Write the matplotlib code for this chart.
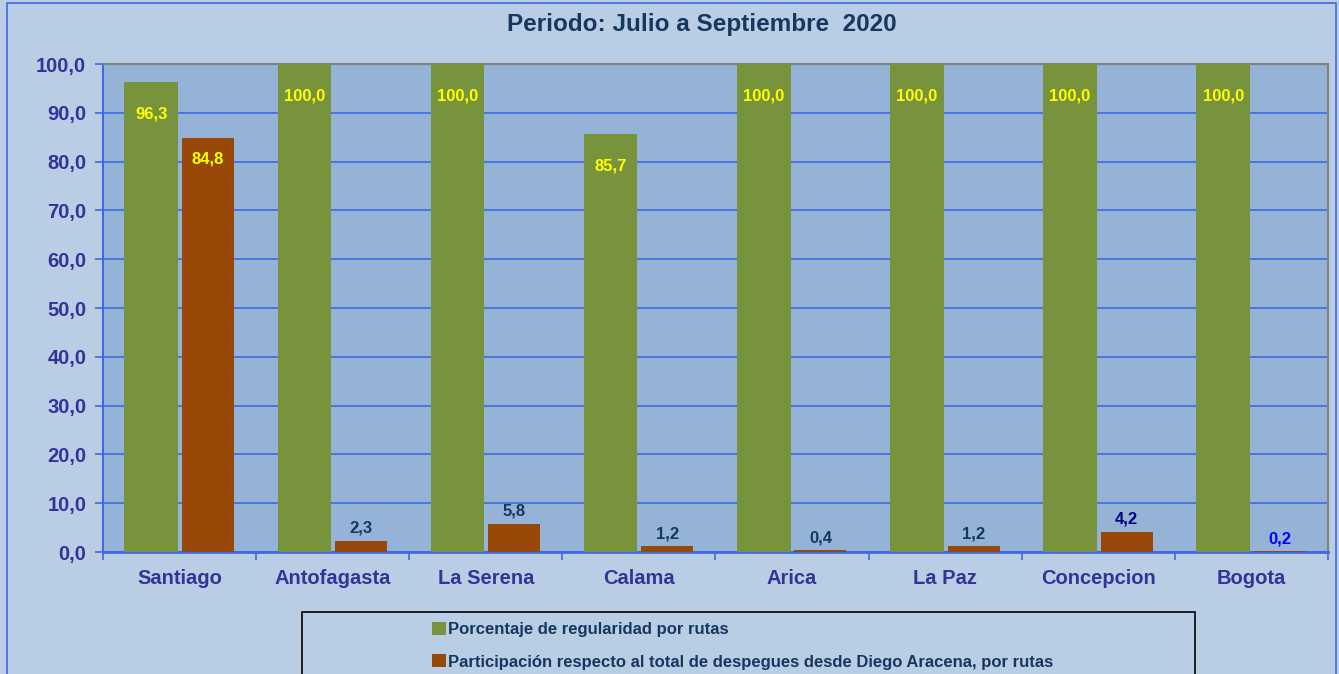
import matplotlib.pyplot as plt
import matplotlib.patches as patches
import numpy as np

plt.rcParams['font.family'] = 'Liberation Sans'
plt.rcParams['font.weight'] = 'bold'

ciudades = ['Santiago', 'Antofagasta', 'La Serena', 'Calama', 'Arica', 'La Paz', 'Concepcion', 'Bogota']
regularidad = [96.3, 100.0, 100.0, 85.7, 100.0, 100.0, 100.0, 100.0]
participacion = [84.8, 2.3, 5.8, 1.2, 0.4, 1.2, 4.2, 0.2]
col_part = ['#FFFF00', '#17375E', '#17375E', '#17375E', '#17375E', '#17375E', '#000080', '#0000FF']

titulo = 'Periodo: Julio a Septiembre  2020'
serie1 = 'Porcentaje de regularidad por rutas'
serie2 = 'Participación respecto al total de despegues desde Diego Aracena, por rutas'

verde = '#77933C'
cafe = '#984807'
fondo = '#B9CDE5'
fondo_ax = '#95B3D7'
azul = '#4169E1'
tick_col = '#333399'
navy = '#17375E'

fig = plt.figure(figsize=(13.39, 6.74), dpi=100, facecolor=fondo)
ax = fig.add_axes([0.0769, 0.181, 0.9149, 0.724])
ax.set_facecolor(fondo_ax)

# borde exterior
fig.patches.append(patches.Rectangle((7/1339, -0.01), (1336-7)/1339, 1 - 3/674 + 0.01,
                                     transform=fig.transFigure, fill=False,
                                     edgecolor=azul, lw=1.2))

x = np.arange(len(ciudades))
w = 0.35
b1 = ax.bar(x - 0.185, regularidad, w, color=verde, label=serie1, zorder=3)
b2 = ax.bar(x + 0.185, participacion, w * 0.97, color=cafe, label=serie2, zorder=3)

for xi, v in zip(x, regularidad):
    ax.text(xi - 0.185, v - 6.5, f'{v:.1f}'.replace('.', ','), ha='center', va='center',
            color='#FFFF00', fontsize=12, fontweight='bold', zorder=4)
for xi, v, c in zip(x, participacion, col_part):
    s = f'{v:.1f}'.replace('.', ',')
    if v > 50:
        ax.text(xi + 0.185, v - 4.3, s, ha='center', va='center', color=c,
                fontsize=12, fontweight='bold', zorder=4)
    else:
        ax.text(xi + 0.185, v + 1.0, s, ha='center', va='bottom', color=c,
                fontsize=12, fontweight='bold', zorder=4)

ax.set_xlim(-0.5, len(ciudades) - 0.5)
ax.set_ylim(0, 100)
ax.set_yticks(np.arange(0, 101, 10))
ax.set_yticklabels([f'{t:.1f}'.replace('.', ',') for t in np.arange(0, 101, 10)],
                   fontweight='bold')
ax.yaxis.grid(True, color=azul, lw=1.2, zorder=1)
ax.set_axisbelow(True)

ax.set_xticks(np.arange(-0.5, len(ciudades), 1))
ax.set_xticklabels([])
ax.set_xticks(x, minor=True)
ax.set_xticklabels(ciudades, minor=True, fontweight='bold')
ax.tick_params(axis='x', which='major', direction='out', length=6, color=azul, width=1.2)
ax.tick_params(axis='x', which='minor', length=0, pad=12, labelsize=14.5, labelcolor=tick_col)
ax.tick_params(axis='y', direction='out', length=6, color=azul, width=1.2,
               labelsize=14.5, labelcolor=tick_col, pad=6)

ax.spines['left'].set_color(azul)
ax.spines['bottom'].set_color(azul)
ax.spines['left'].set_linewidth(1.5)
ax.spines['bottom'].set_linewidth(2)
ax.spines['top'].set_color('#808080')
ax.spines['right'].set_color('#808080')
ax.spines['top'].set_linewidth(1.5)
ax.spines['right'].set_linewidth(1.5)

fig.text(0.524, 0.964, titulo, ha='center', va='center', fontsize=17.5,
         fontweight='bold', color=navy)

# caja de la leyenda
fig.patches.append(patches.Rectangle((302/1339, -0.01), (1195-302)/1339, 1 - 612/674 + 0.01,
                                     transform=fig.transFigure, fill=False,
                                     edgecolor='#000000', lw=1.2))
leg = fig.legend(handles=[b1, b2], labels=[serie1, serie2], loc='upper left',
                 bbox_to_anchor=(427/1339, 1 - 617/674), frameon=False,
                 handlelength=0.85, handleheight=0.85, handletextpad=0.1,
                 labelspacing=1.0, borderaxespad=0, borderpad=0.3,
                 prop={'size': 12, 'weight': 'bold'})
for t in leg.get_texts():
    t.set_color(navy)

fig.savefig('out.png', dpi=100, facecolor=fondo)
